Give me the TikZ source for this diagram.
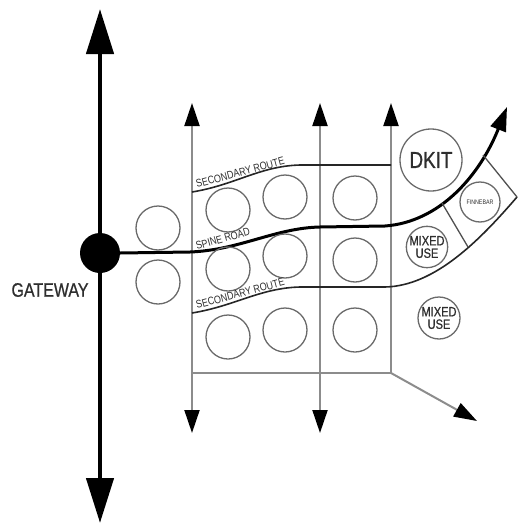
\documentclass[tikz,border=0pt]{standalone}
\usepackage{fontspec}
\setmainfont{Liberation Sans}
\newfontfamily\narrowfont[FakeStretch=0.82]{Liberation Sans}
\newfontfamily\narrowboldfont[FakeStretch=0.82,FakeBold=0.8]{Liberation Sans}
\usetikzlibrary{arrows.meta}
\definecolor{linegray}{HTML}{8C8C8C}
\definecolor{circgray}{HTML}{6A6A6A}
\definecolor{txtgray}{HTML}{2E2E2E}
\definecolor{edgegray}{HTML}{505050}
\tikzset{gtip/.tip={Triangle[length=23pt,width=15pt,color=black]}}
\begin{document}
\begin{tikzpicture}[x=1pt,y=-1pt,
  lot/.style={circle,draw=circgray,line width=1.3pt,minimum size=44pt,inner sep=0pt},
  gridline/.style={draw=linegray,line width=2pt},
  bigarrow/.style={line width=4.5pt,-{Triangle[length=45pt,width=27pt]}},
  route/.style={draw=black!85,line width=1.6pt},
  spine/.style={draw=black,line width=3pt,-{Triangle[length=24pt,width=16pt]}},
  edge/.style={draw=edgegray,line width=1.3pt},
  lbl/.style={font=\narrowfont\fontsize{11}{11}\selectfont,text=txtgray,inner sep=0pt},
  usebox/.style={circle,draw=circgray,line width=1.3pt,inner sep=0pt,text=txtgray,align=center}]
\useasboundingbox (0,0) rectangle (517,525);

% grid lines
\coordinate (Ltop) at (192,103);
\coordinate (Lbot) at (192,433);
\coordinate (Mtop) at (320,103);
\coordinate (Mbot) at (320,433);
\coordinate (Rtop) at (391,103);
\coordinate (Rcorner) at (391,373);
\coordinate (Lbase) at (192,373);
\coordinate (diagend) at (477,421);
\draw[gridline,gtip-gtip] (Lbot) -- (Ltop);
\draw[gridline,gtip-gtip] (Mbot) -- (Mtop);
\draw[gridline,-gtip] (Rcorner) -- (Rtop);
\draw[gridline] (Lbase) -- (Rcorner);
\draw[gridline,-gtip] (Rcorner) -- (diagend);

% gateway and main axis
\node[circle,fill=black,minimum size=40pt,inner sep=0pt] (gate) at (100,253) {};
\coordinate (topend) at (100,9);
\coordinate (botend) at (100,523);
\draw[bigarrow] (gate) -- (topend);
\draw[bigarrow] (gate) -- (botend);
\node[font=\narrowboldfont\fontsize{19.5}{19.5}\selectfont,text=txtgray,inner sep=0pt] (gwlabel) at (50,290) {GATEWAY};

% secondary routes
\draw[route] (192,192) .. controls (235,185) and (260,166) .. (300,165) -- (391,165);
\draw[route] (192,313) .. controls (235,306) and (260,288) .. (300,287) -- (385,287)
  .. controls (435,286) and (480,240) .. (517,197);

% spine road
\draw[spine] (gate.east) -- (190,252) .. controls (240,250) and (275,228) .. (320,227)
  -- (385,226) .. controls (440,222) and (480,175) .. (507,107);

% finnebar parcel edges
\draw[edge] (483,155) -- (517,197);
\draw[edge] (442,203) -- (468,247);

% lots
\node[lot] (l1) at (158,228) {};
\node[lot] (l2) at (158,282) {};
\node[lot] (a1) at (228,210) {};
\node[lot] (a2) at (285,197) {};
\node[lot] (a3) at (355,198) {};
\node[lot] (b1) at (228,269) {};
\node[lot] (b2) at (285,256) {};
\node[lot] (b3) at (355,260) {};
\node[lot] (c1) at (228,337) {};
\node[lot] (c2) at (285,330) {};
\node[lot] (c3) at (355,330) {};

% named uses
\node[usebox,minimum size=62pt,font=\narrowboldfont\fontsize{23}{23}\selectfont] (dkit) at (431,160) {DKIT};
\node[usebox,minimum size=40pt,font=\narrowfont\fontsize{6.5}{6.5}\selectfont] (finn) at (480,202) {FINNEBAR};
\node[usebox,minimum size=38pt,font=\narrowboldfont\fontsize{13.5}{12.5}\selectfont] (mix1) at (427,247) {MIXED\\USE};
\node[usebox,minimum size=42pt,font=\narrowboldfont\fontsize{13.5}{12.5}\selectfont] (mix2) at (439,318) {MIXED\\USE};

% route labels
\node[lbl,anchor=base west,rotate=15] (sr1) at (197,188) {SECONDARY ROUTE};
\node[lbl,anchor=base west,rotate=16] (sp) at (197,250) {SPINE ROAD};
\node[lbl,anchor=base west,rotate=15] (sr2) at (197,309) {SECONDARY ROUTE};
\end{tikzpicture}
\end{document}
